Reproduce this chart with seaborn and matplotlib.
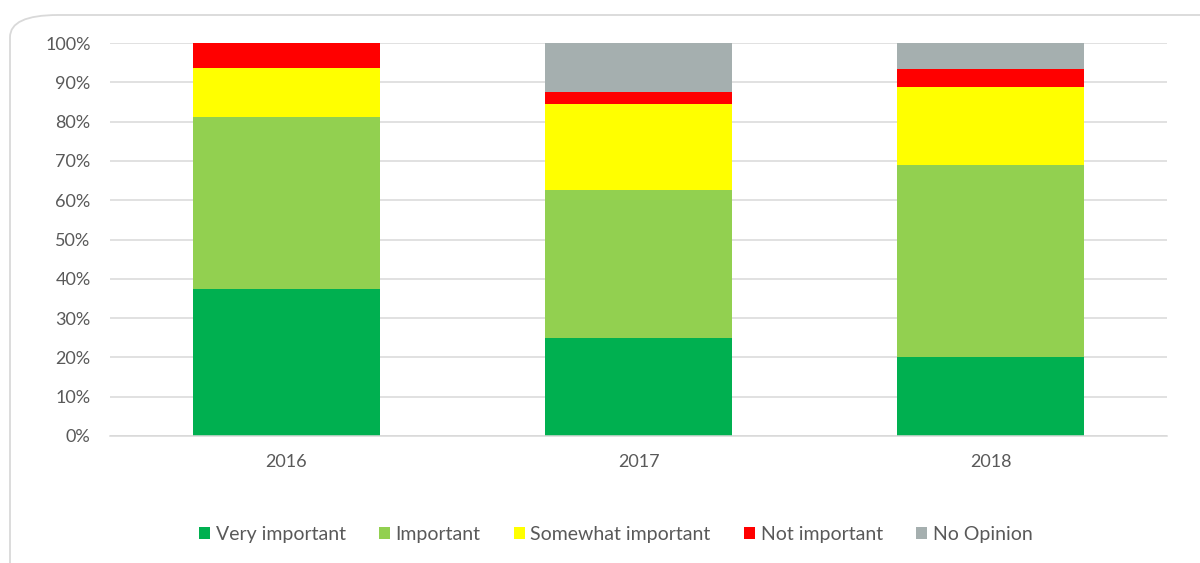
import matplotlib
matplotlib.use("Agg")
import matplotlib.pyplot as plt
from matplotlib.patches import FancyBboxPatch, Patch
import seaborn as sns
import pandas as pd
import numpy as np

years = ['2016', '2017', '2018']
levels = ['Very important', 'Important', 'Somewhat important', 'Not important', 'No Opinion']
colors = ['#00B050', '#92D050', '#FFFF00', '#FF0000', '#A5AFAF']

# percentages
very_important = [37.5, 25.0, 20.0]
important = [43.75, 37.5, 48.9]
somewhat_important = [12.5, 21.875, 20.0]
not_important = [6.25, 3.125, 4.4]
no_opinion = [0.0, 12.5, 6.7]

series = [very_important, important, somewhat_important, not_important, no_opinion]

sns.set_theme(style="white")
plt.rcParams['font.family'] = ['Lato', 'DejaVu Sans']

fig = plt.figure(figsize=(12, 5.63), dpi=100)
ax = fig.add_axes([0.0917, 0.2256, 0.8808, 0.698])

# stacked bars: draw cumulative totals from the top level down
cum = np.cumsum(np.array(series), axis=0)
for i in range(len(levels) - 1, -1, -1):
    df = pd.DataFrame({'Year': years, 'Value': cum[i]})
    sns.barplot(data=df, x='Year', y='Value', color=colors[i], width=0.53,
                saturation=1, ax=ax, zorder=2, edgecolor='none', linewidth=0)

ax.set_ylim(0, 100)
ax.set_yticks(range(0, 101, 10))
ax.set_yticklabels([f'{v}%' for v in range(0, 101, 10)])
ax.set_xlim(-0.5, 2.5)
ax.set(xlabel=None, ylabel=None)
ax.yaxis.grid(True, color='#D9D9D9', linewidth=1.1, zorder=0)
ax.set_axisbelow(True)
for s in ['top', 'right', 'left']:
    ax.spines[s].set_visible(False)
ax.spines['bottom'].set_color('#D9D9D9')
ax.spines['bottom'].set_linewidth(1.1)
ax.tick_params(axis='both', length=0, colors='#595959', labelsize=13)
ax.tick_params(axis='x', pad=13)
ax.tick_params(axis='y', pad=14)

handles = [Patch(facecolor=c, edgecolor='none') for c in colors]
fig.legend(handles, levels, loc='center', bbox_to_anchor=(0.513, 0.050), ncol=5,
           frameon=False, fontsize=14, handlelength=0.57, handleheight=0.57,
           handletextpad=0.3, columnspacing=1.7, labelcolor='#595959')

border = FancyBboxPatch((10 / 1200, -0.1), 1.1, 1.1 - 15 / 563,
                        boxstyle="round,pad=0,rounding_size=0.04",
                        transform=fig.transFigure, facecolor='none',
                        edgecolor='#D9D9D9', linewidth=1.3, mutation_aspect=563 / 1200 * 2.1)
fig.patches.append(border)

fig.savefig('out.png', dpi=100)
